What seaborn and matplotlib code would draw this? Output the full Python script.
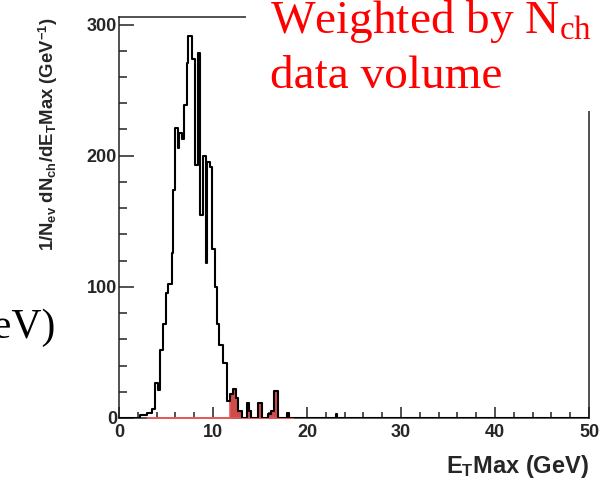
import matplotlib
matplotlib.use("Agg")
import numpy as np
import pandas as pd
import matplotlib.pyplot as plt
from matplotlib.patches import Rectangle
from matplotlib.ticker import MultipleLocator
import seaborn as sns

sns.set_theme(style="white")
plt.rcParams["font.family"] = ["Liberation Sans", "DejaVu Sans"]
plt.rcParams["font.weight"] = "bold"
plt.rcParams["mathtext.fontset"] = "custom"
plt.rcParams["mathtext.rm"] = "Liberation Serif:weight=normal"
plt.rcParams["mathtext.it"] = "Liberation Serif:italic:weight=normal"
plt.rcParams["mathtext.bf"] = "Liberation Sans:bold"

# E_T Max bin edges (GeV) and N_ch-weighted yield per bin
et_edges = [0.0, 2.23, 2.95, 3.48, 3.88, 4.18, 4.39, 4.71, 5.00, 5.24,
            5.61, 5.78, 5.96, 6.23, 6.34, 6.67, 6.91, 7.20, 7.37, 7.73,
            8.09, 8.44, 8.62, 8.90, 9.22, 9.39, 9.68, 9.93, 10.21, 10.46,
            10.67, 11.10, 11.46, 11.81, 12.16, 12.45, 12.69, 13.05, 13.59, 13.88,
            14.01, 14.82, 15.21, 15.88, 16.14, 16.49, 16.88, 17.84, 18.12, 23.09,
            23.24, 50.0]
et_yield = [0, 2, 4, 7, 27, 21, 52, 72, 95,
            102, 126, 174, 221, 206, 217, 213, 239, 271, 291,
            274, 193, 278, 155, 200, 118, 195, 191, 129, 100,
            72, 56, 42, 13, 18, 22, 15.5, 5.4, 0, 11.7,
            5, 0, 11.7, 0, 3, 5.4, 20.7, 0, 3.5, 0,
            3, 0]

# High-E_T tail sample (filled)
tail_edges = [3.1, 11.81, 12.16, 12.45, 12.69, 13.05, 13.59, 13.88, 14.01,
              14.82, 15.21, 15.88, 16.14, 16.49, 16.88, 17.84, 18.12, 18.5]
tail_yield = [0, 18, 22, 15.5, 5.4, 0, 11.7, 5, 0,
              11.7, 0, 3, 5.4, 20.7, 0, 3.5, 0]

x_ticks = [0, 10, 20, 30, 40, 50]
y_ticks = [0, 100, 200, 300]

W, H = 603, 484
fig = plt.figure(figsize=(W / 100, H / 100), dpi=100)
ax = fig.add_axes([119 / W, 1 - 418 / H, (589 - 119) / W, (418 - 17.3) / H])


def centers(edges):
    e = np.asarray(edges, dtype=float)
    return 0.5 * (e[:-1] + e[1:])


main_df = pd.DataFrame({"et": centers(et_edges), "w": et_yield})
tail_df = pd.DataFrame({"et": centers(tail_edges), "w": tail_yield})

sns.histplot(tail_df, x="et", weights="w", bins=tail_edges, element="step",
             fill=True, color="#d24b4b", alpha=1.0, edgecolor="#e35a5a",
             linewidth=1.2, zorder=2.6, ax=ax)
sns.histplot(main_df, x="et", weights="w", bins=et_edges, element="step",
             fill=False, color="black", linewidth=1.5, zorder=3.0, ax=ax)

ax.set_xlim(0, 50)
ax.set_ylim(0, 305.5)
ax.set_xticks(x_ticks)
ax.set_yticks(y_ticks)
ax.xaxis.set_minor_locator(MultipleLocator(2))
ax.yaxis.set_minor_locator(MultipleLocator(20))

for side in ["left", "right", "top", "bottom"]:
    ax.spines[side].set_visible(True)
    ax.spines[side].set_color("#222222")
    ax.spines[side].set_linewidth(1.1)

ax.tick_params(which="both", bottom=True, left=True, top=False, right=False)
ax.tick_params(axis="x", which="major", direction="in", length=8, width=1.1,
               color="#222222", labelsize=13, pad=4)
ax.tick_params(axis="x", which="minor", direction="in", length=4, width=1.1,
               color="#222222")
ax.tick_params(axis="y", which="major", direction="in", length=10.8, width=1.1,
               color="#222222", labelsize=13, pad=1.5)
ax.tick_params(axis="y", which="minor", direction="in", length=5.4, width=1.1,
               color="#222222")

ax.set_xlabel(r"E$_{\mathbf{T}}$Max (GeV)", loc="right", fontsize=17,
              fontweight="bold", labelpad=9)
ax.set_ylabel(r"1/N$_{\mathbf{ev}}$ dN$_{\mathbf{ch}}$/dE$_{\mathbf{T}}$Max (GeV$^{\mathbf{-1}}$)",
              loc="top", fontsize=13.3, fontweight="bold", labelpad=19)

# Caption panel laid over the upper right of the frame
fig.add_artist(Rectangle((246 / W, 1 - 111 / H), 1, 111 / H,
                         transform=fig.transFigure, facecolor="white",
                         edgecolor="none", zorder=10))
fig.text(270 / W, 1 - 33 / H, r"Weighted by N$_{\mathrm{ch}}$ ×", color="red",
         fontsize=34, family="Liberation Serif", fontweight="normal",
         ha="left", va="baseline", zorder=11)
fig.text(270 / W, 1 - 88 / H, "data volume", color="red",
         fontsize=34, family="Liberation Serif", fontweight="normal",
         ha="left", va="baseline", zorder=11)
fig.text(56 / W, 1 - 338 / H, "(GeV)", color="black",
         fontsize=30, family="Liberation Serif", fontweight="normal",
         ha="right", va="baseline", zorder=11)

fig.savefig("out.png", dpi=100)
